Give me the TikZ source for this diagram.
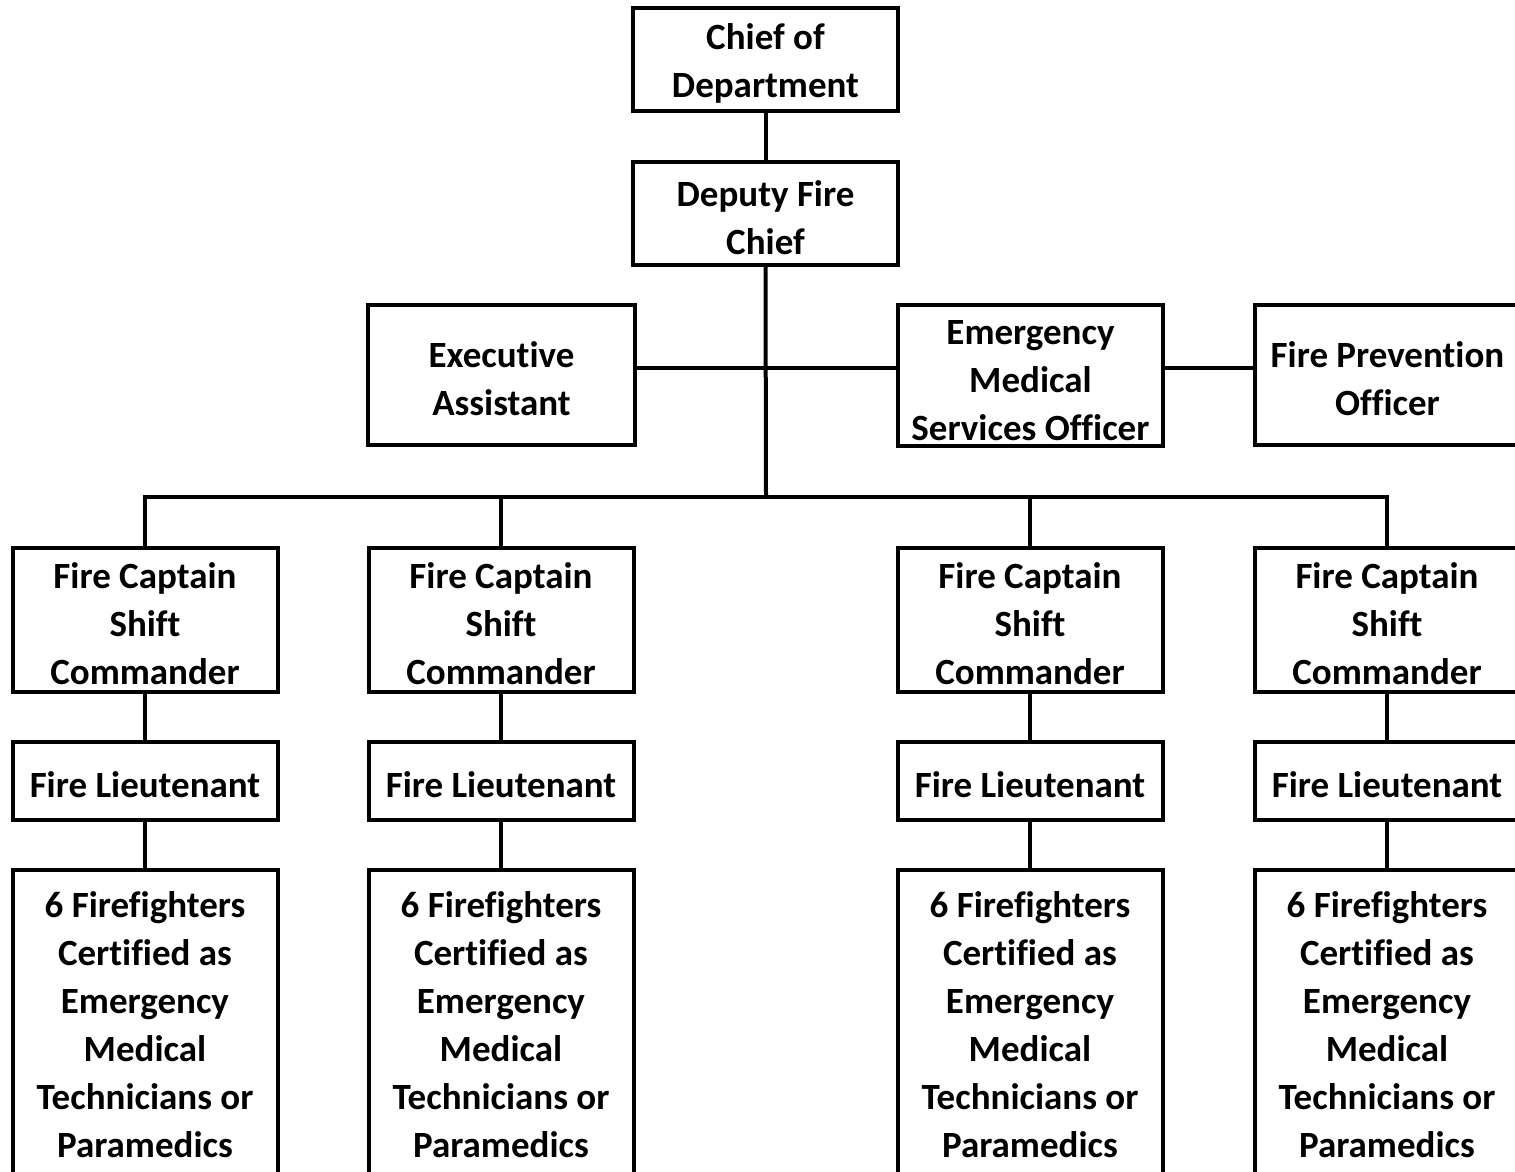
\documentclass[tikz,border=0pt]{standalone}
\usepackage{fontspec}
\setmainfont{Carlito}[Ligatures=NoCommon]
\newcommand\tstrut{\rule{0pt}{17pt}}
\begin{document}
\begin{tikzpicture}[x=0.5pt,y=-0.5pt,
  box/.style={draw=black,line width=2pt,rectangle,inner sep=0pt,align=center,
    font=\bfseries\fontsize{18.5}{24}\selectfont},
  conn/.style={draw=black,line width=2pt}]
\useasboundingbox (0,0) rectangle (1515,1172);
\fill[white] (0,0) rectangle (1515,1172);
\clip (0,0) rectangle (1515,1172);
% top
\node[box,minimum width=132.5pt,minimum height=51.5pt] (chief) at (765.5,59.5) {\tstrut Chief of\\Department};
\node[box,minimum width=132.5pt,minimum height=51.5pt] (deputy) at (765.5,213.5) {\tstrut Deputy Fire\\Chief};
% middle row
\node[box,minimum width=133.5pt,minimum height=70pt] (exec) at (501.5,375) {\tstrut Executive\\Assistant};
\node[box,minimum width=132.5pt,minimum height=70.5pt] (ems) at (1030.5,375.5) {\tstrut Emergency\\Medical\\Services Officer};
\node[box,minimum width=132.5pt,minimum height=70pt] (fpo) at (1387.5,375) {\tstrut Fire Prevention\\Officer};
\coordinate (hy) at (766,368);
\coordinate (bus) at (766,497);
% columns
\foreach \i/\cx in {1/145,2/501,3/1030,4/1387}{
  \node[box,minimum width=132.5pt,minimum height=72pt] (cap\i) at (\cx,620) {\tstrut Fire Captain\\Shift\\Commander};
  \node[box,minimum width=132.5pt,minimum height=39pt] (lt\i) at (\cx,781) {\tstrut Fire Lieutenant};
  \node[box,minimum width=132.5pt,minimum height=155pt] (ff\i) at (\cx,1025) {6 Firefighters\\Certified as\\Emergency\\Medical\\Technicians or\\Paramedics};
}
% connectors
\draw[conn] (chief.south) -- (deputy.north);
\draw[conn] (deputy.south) -- (bus);
\draw[conn] (exec.east |- hy) -- (ems.west |- hy);
\draw[conn] (ems.east |- hy) -- (fpo.west |- hy);
\draw[conn] (cap1.north) |- (bus) -| (cap4.north);
\draw[conn] (cap2.north) -- (cap2.north |- bus);
\draw[conn] (cap3.north) -- (cap3.north |- bus);
\foreach \i in {1,2,3,4}{
  \draw[conn] (cap\i.south) -- (lt\i.north);
  \draw[conn] (lt\i.south) -- (ff\i.north);
}
\end{tikzpicture}
\end{document}
